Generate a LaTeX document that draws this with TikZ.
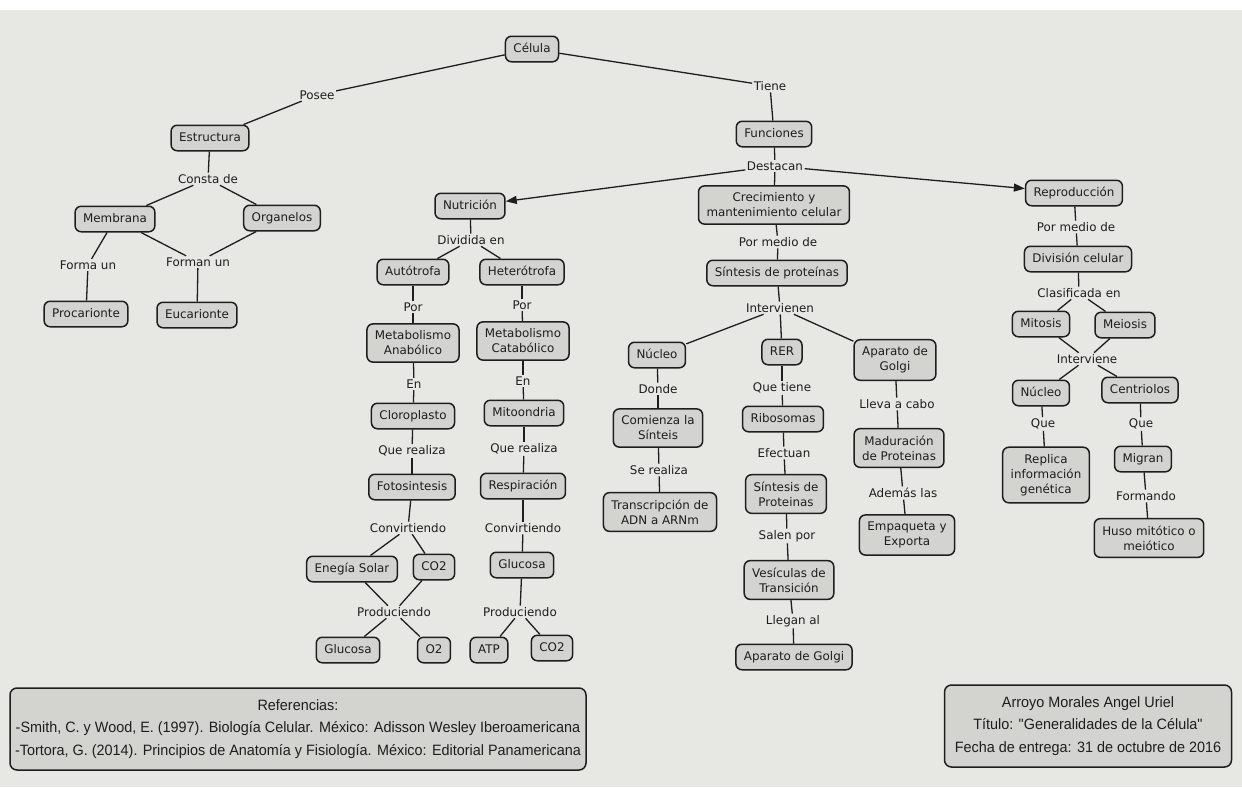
\documentclass[tikz,border=0pt]{standalone}
\usepackage{fontspec}
\setmainfont{DejaVu Sans}
\newfontfamily\reffont[FakeStretch=0.96]{Liberation Sans}
\usetikzlibrary{arrows.meta}
\definecolor{paper}{HTML}{E7E7E4}
\definecolor{boxfill}{HTML}{D3D3D0}
\definecolor{ink}{HTML}{1E1E1E}
\begin{document}
\begin{tikzpicture}[x=1pt,y=-1pt,
  every node/.style={font=\fontsize{11.9}{15}\selectfont, text=ink},
  c/.style={draw=ink, fill=boxfill, rounded corners=6pt, line width=1.5pt, inner xsep=8pt, inner ysep=7pt, text height=9pt, text depth=2.5pt},
  m/.style={draw=ink, fill=boxfill, rounded corners=6pt, line width=1.5pt, inner xsep=8pt, inner ysep=7pt, align=center},
  lab/.style={inner sep=1.5pt},
  link/.style={draw=ink, line width=1.3pt},
  arr/.style={link, -{Triangle[length=11pt,width=8pt]}},
  note/.style={draw=ink, fill=boxfill, rounded corners=7pt, line width=1.5pt, align=center, font=\reffont\fontsize{15}{22.5}\selectfont}
]
\useasboundingbox (0,0) rectangle (1242,787);
\fill[paper] (0,0) rectangle (1242,787);
\fill[white] (0,0) rectangle (1242,10);

% ---------- concepts ----------
\node[c] (celula) at (532,49) {Célula};
\node[c] (estructura) at (210,138) {Estructura};
\node[c] (funciones) at (774,134) {Funciones};
\node[c] (membrana) at (115,219) {Membrana};
\node[c] (organelos) at (282,218) {Organelos};
\node[c] (procarionte) at (86,314) {Procarionte};
\node[c] (eucarionte) at (197,315) {Eucarionte};
\node[c] (nutricion) at (470,206) {Nutrición};
\node[m] (crec) at (774,205) {Crecimiento y\\mantenimiento celular};
\node[c] (reproduccion) at (1074,193) {Reproducción};
\node[c] (autotrofa) at (413,272) {Autótrofa};
\node[c] (heterotrofa) at (522,272) {Heterótrofa};
\node[c] (sintesisA) at (777,273) {Síntesis de proteínas};
\node[c] (division) at (1078,259) {División celular};
\node[c] (mitosis) at (1041,324) {Mitosis};
\node[c] (meiosis) at (1125,325) {Meiosis};
\node[m] (metana) at (413,343) {Metabolismo\\Anabólico};
\node[m] (metcat) at (523,341) {Metabolismo\\Catabólico};
\node[c] (nucleoA) at (657,355) {Núcleo};
\node[c] (rer) at (782,352) {RER};
\node[m] (golgiA) at (895,360) {Aparato de\\Golgi};
\node[c] (nucleoB) at (1041,393) {Núcleo};
\node[c] (centriolos) at (1140,390) {Centriolos};
\node[c] (cloroplasto) at (413,416) {Cloroplasto};
\node[c] (mitoondria) at (524,413) {Mitoondria};
\node[m] (comienza) at (658,428) {Comienza la\\Sínteis};
\node[c] (ribosomas) at (783,419) {Ribosomas};
\node[m] (maduracion) at (899,448) {Maduración\\de Proteinas};
\node[m] (replica) at (1046,475) {Replica\\información\\genética};
\node[c] (migran) at (1143,459) {Migran};
\node[c] (fotosintesis) at (412,487) {Fotosintesis};
\node[c] (respiracion) at (523,486) {Respiración};
\node[m] (transcripcion) at (660,512) {Transcripción de\\ADN a ARNm};
\node[m] (sintesisB) at (786,494) {Síntesis de\\Proteinas};
\node[m] (empaqueta) at (907,535) {Empaqueta y\\Exporta};
\node[m] (huso) at (1149,538) {Huso mitótico o\\meiótico};
\node[c] (enegia) at (352,569) {Enegía Solar};
\node[c] (co2A) at (434,567) {CO2};
\node[c] (glucosaA) at (522,565) {Glucosa};
\node[m] (vesiculas) at (789,580) {Vesículas de\\Transición};
\node[c] (glucosaB) at (348,650) {Glucosa};
\node[c] (o2) at (434,650) {O2};
\node[c] (atp) at (489,650) {ATP};
\node[c] (co2B) at (552,648) {CO2};
\node[c] (golgiB) at (794,657) {Aparato de Golgi};

% ---------- linking phrases ----------
\node[lab] (posee) at (317,95) {Posee};
\node[lab] (tiene) at (770,86) {Tiene};
\node[lab] (consta) at (208,179) {Consta de};
\node[lab] (destacan) at (775,166) {Destacan};
\node[lab] (formaun) at (88,265) {Forma un};
\node[lab] (formanun) at (198,262) {Forman un};
\node[lab] (dividida) at (471,240) {Dividida en};
\node[lab] (pormedioA) at (778,242) {Por medio de};
\node[lab] (pormedioB) at (1076,227) {Por medio de};
\node[lab] (clasificada) at (1079,293) {Clasificada en};
\node[lab] (porA) at (413,307) {Por};
\node[lab] (porB) at (522,305) {Por};
\node[lab] (intervienen) at (780,308) {Intervienen};
\node[lab] (interviene) at (1087,359) {Interviene};
\node[lab] (enA) at (414,384) {En};
\node[lab] (enB) at (523,381) {En};
\node[lab] (donde) at (658,389) {Donde};
\node[lab] (quetiene) at (782,388) {Que tiene};
\node[lab] (lleva) at (897,404) {Lleva a cabo};
\node[lab] (queA) at (1043,424) {Que};
\node[lab] (queB) at (1141,424) {Que};
\node[lab] (realizaA) at (412,451) {Que realiza};
\node[lab] (realizaB) at (524,449) {Que realiza};
\node[lab] (serealiza) at (659,470) {Se realiza};
\node[lab] (efectuan) at (784,453) {Efectuan};
\node[lab] (ademas) at (903,493) {Además las};
\node[lab] (formando) at (1146,496) {Formando};
\node[lab] (convA) at (408,528) {Convirtiendo};
\node[lab] (convB) at (523,528) {Convirtiendo};
\node[lab] (salen) at (787,536) {Salen por};
\node[lab] (prodA) at (394,612) {Produciendo};
\node[lab] (prodB) at (520,612) {Produciendo};
\node[lab] (llegan) at (793,621) {Llegan al};

% ---------- connectors ----------
\foreach \a/\b in {
  celula/posee, posee/estructura, celula/tiene, tiene/funciones,
  estructura/consta, consta/membrana, consta/organelos,
  membrana/formaun, formaun/procarionte,
  membrana/formanun, organelos/formanun, formanun/eucarionte,
  funciones/destacan, destacan/crec,
  nutricion/dividida, dividida/autotrofa, dividida/heterotrofa,
  autotrofa/porA, porA/metana, metana/enA, enA/cloroplasto,
  cloroplasto/realizaA, realizaA/fotosintesis, fotosintesis/convA,
  convA/enegia, convA/co2A, enegia/prodA, co2A/prodA, prodA/glucosaB, prodA/o2,
  heterotrofa/porB, porB/metcat, metcat/enB, enB/mitoondria,
  mitoondria/realizaB, realizaB/respiracion, respiracion/convB,
  convB/glucosaA, glucosaA/prodB, prodB/atp, prodB/co2B,
  crec/pormedioA, pormedioA/sintesisA, sintesisA/intervienen,
  intervienen/nucleoA, intervienen/rer, intervienen/golgiA,
  nucleoA/donde, donde/comienza, comienza/serealiza, serealiza/transcripcion,
  rer/quetiene, quetiene/ribosomas, ribosomas/efectuan, efectuan/sintesisB,
  sintesisB/salen, salen/vesiculas, vesiculas/llegan, llegan/golgiB,
  golgiA/lleva, lleva/maduracion, maduracion/ademas, ademas/empaqueta,
  reproduccion/pormedioB, pormedioB/division, division/clasificada,
  clasificada/mitosis, clasificada/meiosis, mitosis/interviene, meiosis/interviene,
  interviene/nucleoB, interviene/centriolos,
  nucleoB/queA, queA/replica, centriolos/queB, queB/migran,
  migran/formando, formando/huso}
  \draw[link] (\a) -- (\b);

\draw[arr] (destacan) -- (nutricion);
\draw[arr] (destacan) -- (reproduccion);

% ---------- bottom boxes ----------
\node[note, minimum width=576, minimum height=82] (refs) at (298,729)
  {Referencias:\\-Smith, C. y Wood, E. (1997). Biología Celular. México: Adisson Wesley Iberoamericana\\-Tortora, G. (2014). Principios de Anatomía y Fisiología. México: Editorial Panamericana};
\node[note, minimum width=287, minimum height=82] (autor) at (1088,726)
  {Arroyo Morales Angel Uriel\\Título: "Generalidades de la Célula"\\Fecha de entrega: 31 de octubre de 2016};
\end{tikzpicture}
\end{document}
